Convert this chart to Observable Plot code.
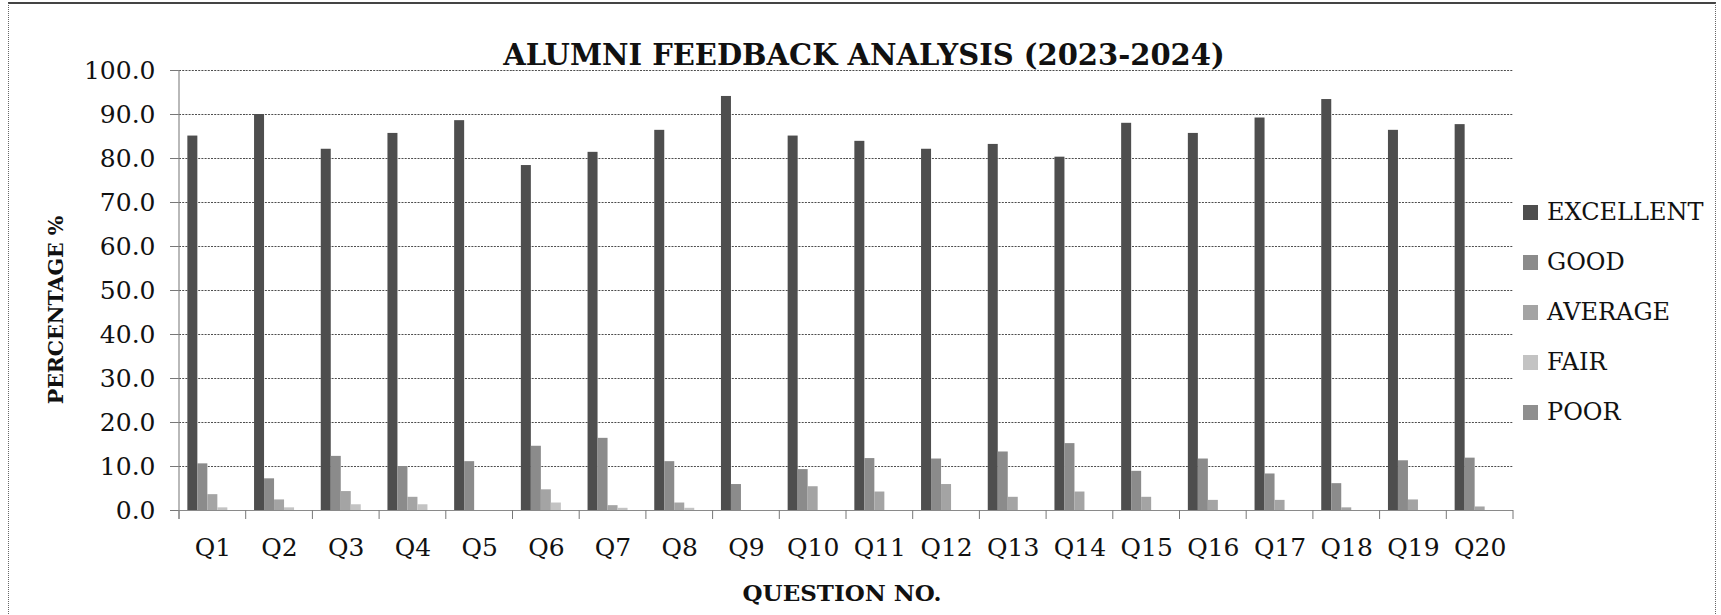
<!DOCTYPE html>
<html>
<head>
<meta charset="utf-8">
<script src="https://cdn.jsdelivr.net/npm/d3@7"></script>
<script src="https://cdn.jsdelivr.net/npm/@observablehq/plot@0.6"></script>
<style>
  body { margin: 0; background: #fff; }
  #wrap { position: relative; width: 1721px; height: 615px; overflow: hidden; background: #fff;
          font-family: "DejaVu Serif", serif; color: #111; }
  #frame { position: absolute; left: 8px; top: 2px; width: 1706px; height: 640px;
           border-left: 1px dotted #666; border-right: 1px dotted #666; border-top: 2px solid #444; }
  #chart { position: absolute; left: 0; top: 0; }
  #title { position: absolute; left: 364px; width: 1000px; top: 38px; text-align: center;
           font-weight: bold; font-size: 29px; line-height: 34px; }
  #ylabel { position: absolute; left: 56px; top: 310px; transform: translate(-50%, -50%) rotate(-90deg);
            font-weight: bold; font-size: 20.5px; white-space: nowrap; }
  #xlabel { position: absolute; left: 342px; width: 1000px; top: 579px; text-align: center;
            font-weight: bold; font-size: 23px; line-height: 28px; }
  #legend { position: absolute; left: 1523px; top: 187px; }
  .row { display: flex; align-items: center; height: 50px; font-size: 24px; }
  .sw { width: 15px; height: 15px; margin-right: 9px; }
</style>
</head>
<body>
<div id="wrap">
  <div id="frame"></div>
  <div id="chart"></div>
  <div id="title"></div>
  <div id="ylabel"></div>
  <div id="xlabel"></div>
  <div id="legend"></div>
</div>
<script>
const titleText = "ALUMNI FEEDBACK ANALYSIS (2023-2024)";
const yLabel = "PERCENTAGE %";
const xLabel = "QUESTION NO.";

const questions = ["Q1","Q2","Q3","Q4","Q5","Q6","Q7","Q8","Q9","Q10",
                   "Q11","Q12","Q13","Q14","Q15","Q16","Q17","Q18","Q19","Q20"];
const ratings = ["EXCELLENT","GOOD","AVERAGE","FAIR","POOR"];

const excellent = [85.1, 90.0, 82.1, 85.7, 88.6, 78.4, 81.4, 86.4, 94.1, 85.1,
                   83.9, 82.1, 83.2, 80.3, 88.0, 85.7, 89.2, 93.4, 86.4, 87.7];
const good      = [10.6, 7.2, 12.3, 10.0, 11.1, 14.6, 16.4, 11.1, 5.9, 9.3,
                   11.8, 11.7, 13.3, 15.2, 8.9, 11.7, 8.3, 6.1, 11.3, 11.9];
const average   = [3.6, 2.4, 4.3, 3.0, 0.0, 4.7, 1.1, 1.7, 0.0, 5.4,
                   4.2, 5.9, 3.0, 4.2, 3.0, 2.3, 2.3, 0.6, 2.4, 0.8];
const fair      = [0.6, 0.6, 1.3, 1.3, 0.0, 1.7, 0.5, 0.5, 0.0, 0.0,
                   0.0, 0.0, 0.0, 0.0, 0.0, 0.0, 0.0, 0.0, 0.0, 0.0];
const poor      = [0, 0, 0, 0, 0, 0, 0, 0, 0, 0, 0, 0, 0, 0, 0, 0, 0, 0, 0, 0];

const yTicks = [0, 10, 20, 30, 40, 50, 60, 70, 80, 90, 100];
const colors = ["#4e4e4e", "#8b8b8b", "#a4a4a4", "#c3c3c3", "#8f8f8f"];

const series = [excellent, good, average, fair, poor];
const data = questions.flatMap((q, i) =>
  ratings.map((r, j) => ({question: q, rating: r, value: series[j][i]})));

const plot = Plot.plot({
  width: 1721,
  height: 615,
  marginTop: 70,
  marginBottom: 105,
  marginLeft: 179,
  marginRight: 208,
  style: {fontFamily: "DejaVu Serif, serif", color: "#111", background: "transparent", overflow: "visible"},
  fx: {domain: questions, paddingInner: 0, paddingOuter: 0, round: false, label: null},
  x: {domain: ratings, axis: null, paddingInner: 0, paddingOuter: 0.835, round: false},
  y: {domain: [0, 100], label: null},
  color: {domain: ratings, range: colors},
  marks: [
    Plot.gridY(yTicks.filter(d => d > 0), {stroke: "#3a3a3a", strokeOpacity: 0.9, strokeDasharray: "2,1.2", strokeWidth: 1}),
    Plot.barY(data, {fx: "question", x: "rating", y: "value", fill: "rating"}),
    Plot.ruleY([0], {stroke: "#8a8a8a", strokeWidth: 1.2}),
    Plot.axisY({ticks: yTicks, tickFormat: d => d.toFixed(1), tickSize: 9, tickPadding: 15,
                fontSize: 25, stroke: "#777", label: null}),
    Plot.axisFx({anchor: "bottom", tickSize: 0, tickPadding: 28, fontSize: 25, label: null})
  ]
});
document.getElementById("chart").appendChild(plot);

// axis line and category boundary ticks, positioned with Plot's own scales
const fx = plot.scale("fx");
const ys = plot.scale("y");
const svg = d3.select(plot);
const y0 = ys.apply(0), y100 = ys.apply(100);
const bounds = questions.map(q => fx.apply(q)).concat([fx.apply(questions[questions.length - 1]) + fx.bandwidth]);
svg.append("g").selectAll("line").data(bounds).join("line")
  .attr("x1", d => d).attr("x2", d => d)
  .attr("y1", y0).attr("y2", y0 + 9)
  .attr("stroke", "#777").attr("stroke-width", 1);
svg.append("line")
  .attr("x1", bounds[0]).attr("x2", bounds[0])
  .attr("y1", y100).attr("y2", y0 + 9)
  .attr("stroke", "#8a8a8a").attr("stroke-width", 1.2);

document.getElementById("title").textContent = titleText;
document.getElementById("ylabel").textContent = yLabel;
document.getElementById("xlabel").textContent = xLabel;

const legend = d3.select("#legend");
ratings.forEach((r, i) => {
  const row = legend.append("div").attr("class", "row");
  row.append("div").attr("class", "sw").style("background", colors[i]);
  row.append("span").text(r);
});
</script>
</body>
</html>
